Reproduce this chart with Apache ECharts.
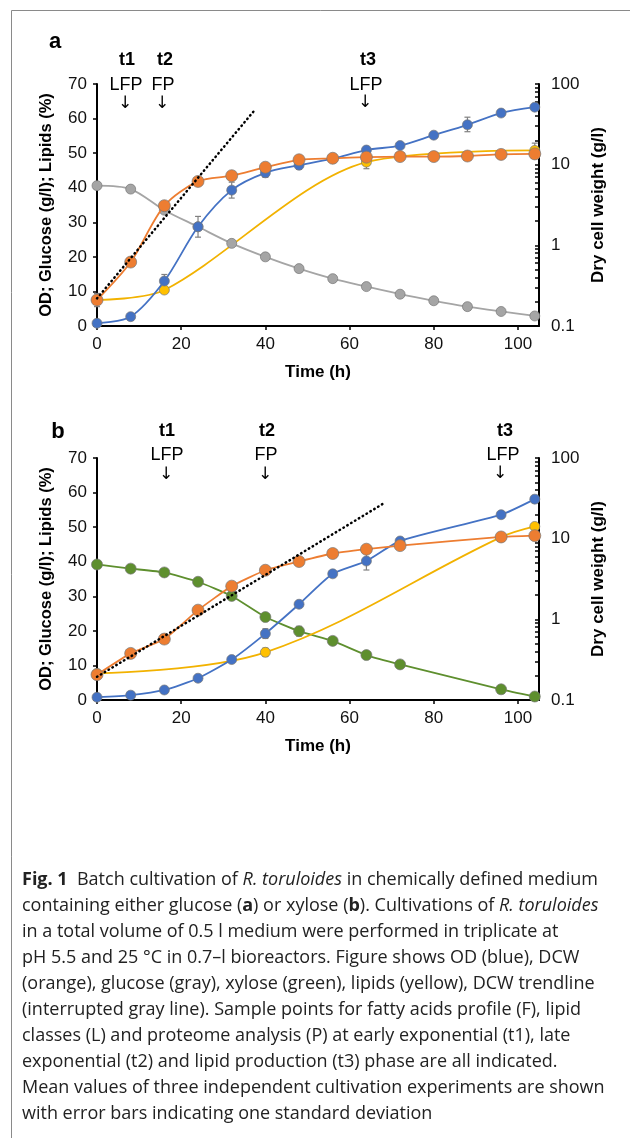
<!DOCTYPE html>
<html>
<head>
<meta charset="utf-8">
<script src="https://cdn.jsdelivr.net/npm/echarts@6/dist/echarts.min.js"></script>
<style>
  html, body { margin: 0; padding: 0; background: #fff; }
  #fig { width: 630px; height: 1138px; }
</style>
</head>
<body>
<div id="fig"></div>
<script>
// panel a: glucose
const timeA = [0, 8, 16, 24, 32, 40, 48, 56, 64, 72, 80, 88, 96, 104];
const odA = [0.8, 2.7, 13.0, 28.7, 39.3, 44.3, 46.5, 48.4, 50.9, 52.2, 55.2, 58.2, 61.6, 63.3];
const glucoseA = [40.6, 39.6, 33.5, 28.7, 23.9, 20.0, 16.6, 13.7, 11.4, 9.2, 7.3, 5.6, 4.2, 2.9];
const dcwA = [0.21, 0.62, 3.1, 6.2, 7.3, 9.3, 11.5, 12.0, 12.4, 12.6, 12.6, 12.8, 13.4, 13.6];
const lipidTimeA = [0, 16, 64, 104];
const lipidA = [7.5, 10.4, 47.4, 50.8];
const trendTimeA = [0, 37.3];
const trendA = [0.22, 46.4];
// error bars [time, low, high]
const odErrA = [[16, 11.1, 14.9], [24, 25.7, 31.7], [32, 37.0, 41.6], [40, 43.0, 45.6], [48, 45.3, 47.7], [88, 56.2, 60.4]];
const lipidErrA = [[0, 5.6, 9.4], [64, 45.5, 49.3], [104, 48.8, 52.9]];

// panel b: xylose
const timeB = [0, 8, 16, 24, 32, 40, 48, 56, 64, 72, 96, 104];
const odB = [0.8, 1.4, 2.9, 6.3, 11.7, 19.2, 27.7, 36.5, 40.2, 46.0, 53.6, 58.1];
const xyloseB = [39.2, 38.0, 36.9, 34.2, 30.1, 24.0, 19.9, 17.1, 13.0, 10.3, 3.1, 1.0];
const dcwB = [0.206, 0.378, 0.569, 1.30, 2.58, 4.06, 5.21, 6.55, 7.4, 8.2, 10.5, 10.9];
const lipidTimeB = [0, 40, 96, 104];
const lipidB = [7.7, 13.8, 47.1, 50.2];
const trendTimeB = [0, 68];
const trendB = [0.194, 27.2];
const odErrB = [[40, 17.8, 20.6], [64, 37.6, 42.8], [104, 57.0, 59.2]];
const xyloseErrB = [[48, 18.5, 21.3]];
const lipidErrB = [[40, 12.6, 15.0]];

const leftTicks = [0, 10, 20, 30, 40, 50, 60, 70];
const timeTicks = [0, 20, 40, 60, 80, 100];
const logTicks = [0.1, 0.2, 0.3, 0.4, 0.5, 0.6, 0.7, 0.8, 0.9,
  1, 2, 3, 4, 5, 6, 7, 8, 9, 10, 20, 30, 40, 50, 60, 70, 80, 90, 100];

const FONT = '"Liberation Sans", Arial, sans-serif';
const C = { od: '#4472C4', dcw: '#ED7D31', glc: '#A5A5A5', xyl: '#5E8F2E', lip: '#F2B200' };

function zip(xs, ys) { return xs.map((x, i) => [x, ys[i]]); }

function xAxisFor(g) {
  return {
    gridIndex: g, type: 'value', min: 0, max: 105, interval: 20,
    name: 'Time (h)', nameLocation: 'middle', nameGap: 38,
    nameTextStyle: { fontFamily: FONT, fontSize: 17, fontWeight: 'bold', color: '#000' },
    axisLine: { lineStyle: { color: '#000', width: 2 } },
    axisTick: { show: true, length: 4, lineStyle: { color: '#000', width: 1.5 }, customValues: timeTicks },
    axisLabel: { fontFamily: FONT, fontSize: 17, color: '#111', margin: 10, customValues: timeTicks },
    splitLine: { show: false }
  };
}
function leftAxisFor(g) {
  return {
    gridIndex: g, type: 'value', min: 0, max: 70, interval: 10, position: 'left',
    name: 'OD; Glucose (g/l); Lipids (%)', nameLocation: 'middle', nameGap: 42,
    nameTextStyle: { fontFamily: FONT, fontSize: 16.5, fontWeight: 'bold', color: '#000' },
    axisLine: { show: true, lineStyle: { color: '#000', width: 2 } },
    axisTick: { show: true, length: 4, lineStyle: { color: '#000', width: 1.5 } },
    axisLabel: { fontFamily: FONT, fontSize: 17, color: '#111', margin: 10, customValues: leftTicks },
    splitLine: { show: false }
  };
}
function rightAxisFor(g) {
  return {
    gridIndex: g, type: 'log', logBase: 10, min: 0.1, max: 100, position: 'right',
    name: 'Dry cell weight (g/l)', nameLocation: 'middle', nameGap: 44,
    nameTextStyle: { fontFamily: FONT, fontSize: 17, fontWeight: 'bold', color: '#000' },
    axisLine: { show: true, lineStyle: { color: '#000', width: 2 } },
    axisTick: { show: true, inside: true, length: 4, lineStyle: { color: '#000', width: 1.5 },
      customValues: logTicks },
    axisLabel: { fontFamily: FONT, fontSize: 17, color: '#111', margin: 12 },
    splitLine: { show: false }
  };
}

function lineSeries(name, g, yi, data, color, size, smooth, z) {
  return {
    name, type: 'line', xAxisIndex: g, yAxisIndex: yi, data, smooth,
    symbol: 'circle', symbolSize: size, z,
    lineStyle: { color, width: 1.8 },
    itemStyle: { color, borderColor: 'rgba(120,120,120,0.7)', borderWidth: 1 }
  };
}
function lipidSeries(g, data, smooth) {
  return {
    name: 'Lipids', type: 'line', xAxisIndex: g, yAxisIndex: 2 * g, data, smooth: smooth,
    symbol: 'circle', symbolSize: 10, z: 3,
    lineStyle: { color: C.lip, width: 1.8 },
    itemStyle: { color: '#FFC000', borderColor: 'rgba(120,120,120,0.7)', borderWidth: 1 }
  };
}
function trendSeries(g, data) {
  return {
    name: 'DCW trend', type: 'line', xAxisIndex: g, yAxisIndex: 2 * g + 1, data,
    symbol: 'none', z: 8, silent: true,
    lineStyle: { color: '#000', width: 2.5, type: [0.5, 4], cap: 'round' }
  };
}
function errSeries(g, yi, data) {
  return {
    type: 'custom', xAxisIndex: g, yAxisIndex: yi, data, z: 2, silent: true,
    renderItem(params, api) {
      const x = api.value(0);
      const lo = api.coord([x, api.value(1)]);
      const hi = api.coord([x, api.value(2)]);
      const st = { stroke: '#808080', lineWidth: 1.2 };
      return {
        type: 'group', children: [
          { type: 'line', shape: { x1: lo[0], y1: lo[1], x2: hi[0], y2: hi[1] }, style: st },
          { type: 'line', shape: { x1: hi[0] - 3, y1: hi[1], x2: hi[0] + 3, y2: hi[1] }, style: st },
          { type: 'line', shape: { x1: lo[0] - 3, y1: lo[1], x2: lo[0] + 3, y2: lo[1] }, style: st }
        ]
      };
    }
  };
}

function label(text, x, y, size, bold) {
  return {
    type: 'text', x, y,
    style: { text, fontFamily: FONT, fontSize: size, fontWeight: bold ? 'bold' : 'normal',
      fill: '#000', align: 'center', verticalAlign: 'middle' }
  };
}
function arrow(x, y) {
  return {
    type: 'text', x, y,
    style: { text: '↓', fontFamily: '"DejaVu Sans", sans-serif', fontSize: 17, fill: '#000',
      align: 'center', verticalAlign: 'middle' }
  };
}

const captionLines = [
  '{b|Fig. 1}  Batch cultivation of {i|R. toruloides} in chemically defined medium',
  'containing either glucose ({b|a}) or xylose ({b|b}). Cultivations of {i|R. toruloides}',
  'in a total volume of 0.5 l medium were performed in triplicate at',
  'pH 5.5 and 25 °C in 0.7–l bioreactors. Figure shows OD (blue), DCW',
  '(orange), glucose (gray), xylose (green), lipids (yellow), DCW trendline',
  '(interrupted gray line). Sample points for fatty acids profile (F), lipid',
  'classes (L) and proteome analysis (P) at early exponential (t1), late',
  'exponential (t2) and lipid production (t3) phase are all indicated.',
  'Mean values of three independent cultivation experiments are shown',
  'with error bars indicating one standard deviation'
];
const CAP_FONT = '"Open Sans", "Noto Sans", sans-serif';
const CAP_SIZE = 18;
const captionEls = captionLines.map((t, i) => ({
  type: 'text', x: 22, y: 880 + i * 26,
  style: {
    text: t, fontFamily: CAP_FONT, fontSize: CAP_SIZE, fill: '#222', verticalAlign: 'middle',
    rich: {
      b: { fontFamily: CAP_FONT, fontSize: CAP_SIZE, fontWeight: 'bold', fill: '#222' },
      i: { fontFamily: CAP_FONT, fontSize: CAP_SIZE, fontStyle: 'italic', fill: '#222' }
    }
  }
}));

const chart = echarts.init(document.getElementById('fig'), null, { renderer: 'canvas' });
chart.setOption({
  backgroundColor: '#fff',
  animation: false,
  grid: [
    { left: 97, top: 84, width: 442, height: 242 },
    { left: 97, top: 458, width: 442, height: 242 }
  ],
  xAxis: [xAxisFor(0), xAxisFor(1)],
  yAxis: [leftAxisFor(0), rightAxisFor(0), leftAxisFor(1), rightAxisFor(1)],
  series: [
    // panel a
    lineSeries('Glucose', 0, 0, zip(timeA, glucoseA), C.glc, 10, 0.3, 3),
    errSeries(0, 0, lipidErrA),
    lipidSeries(0, zip(lipidTimeA, lipidA), 0.3),
    errSeries(0, 0, odErrA),
    lineSeries('OD', 0, 0, zip(timeA, odA), C.od, 10, 0.3, 4),
    lineSeries('DCW', 0, 1, zip(timeA, dcwA), C.dcw, 12, 0.3, 5),
    trendSeries(0, zip(trendTimeA, trendA)),
    // panel b
    errSeries(1, 2, xyloseErrB),
    lineSeries('Xylose', 1, 2, zip(timeB, xyloseB), C.xyl, 11, 0.15, 3),
    errSeries(1, 2, lipidErrB),
    lipidSeries(1, zip(lipidTimeB, lipidB), 0.35),
    errSeries(1, 2, odErrB),
    lineSeries('OD', 1, 2, zip(timeB, odB), C.od, 10, 0.2, 4),
    lineSeries('DCW', 1, 3, zip(timeB, dcwB), C.dcw, 12, 0.15, 5),
    trendSeries(1, zip(trendTimeB, trendB))
  ],
  graphic: [
    { type: 'line', shape: { x1: 11.5, y1: 10.5, x2: 630, y2: 10.5 }, style: { stroke: '#8a8a8a', lineWidth: 1 } },
    { type: 'line', shape: { x1: 11.5, y1: 10.5, x2: 11.5, y2: 1138 }, style: { stroke: '#8a8a8a', lineWidth: 1 } },
    label('a', 55, 42, 22, true),
    label('t1', 127, 60, 18, true), label('LFP', 126, 85, 18, false), arrow(125, 104),
    label('t2', 165, 60, 18, true), label('FP', 163, 85, 18, false), arrow(162, 104),
    label('t3', 368, 60, 18, true), label('LFP', 366, 85, 18, false), arrow(365, 103),
    label('b', 58, 432, 22, true),
    label('t1', 167, 431, 18, true), label('LFP', 167, 455, 18, false), arrow(166, 475),
    label('t2', 267, 431, 18, true), label('FP', 266, 455, 18, false), arrow(265, 475),
    label('t3', 505, 431, 18, true), label('LFP', 503, 455, 18, false), arrow(500, 474),
    ...captionEls
  ]
});
</script>
</body>
</html>
